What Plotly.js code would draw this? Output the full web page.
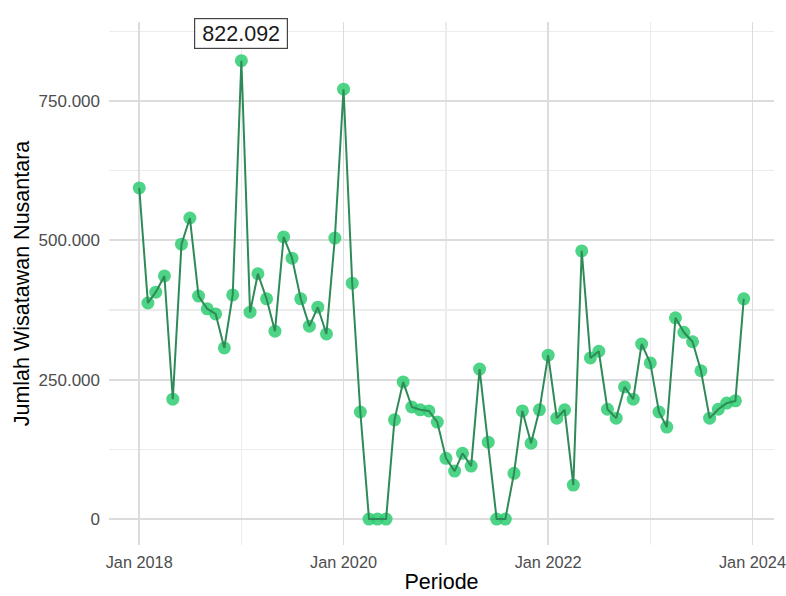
<!DOCTYPE html>
<html>
<head>
<meta charset="utf-8">
<script src="https://cdn.plot.ly/plotly-3.0.1.min.js"></script>
<style>html,body{margin:0;padding:0;background:#fff;}#chart{width:786px;height:596px;}</style>
</head>
<body>
<div id="chart"></div>
<script>
var periods = [
"2018-01-01","2018-02-01","2018-03-01","2018-04-01","2018-05-01","2018-06-01","2018-07-01","2018-08-01","2018-09-01","2018-10-01","2018-11-01","2018-12-01",
"2019-01-01","2019-02-01","2019-03-01","2019-04-01","2019-05-01","2019-06-01","2019-07-01","2019-08-01","2019-09-01","2019-10-01","2019-11-01","2019-12-01",
"2020-01-01","2020-02-01","2020-03-01","2020-04-01","2020-05-01","2020-06-01","2020-07-01","2020-08-01","2020-09-01","2020-10-01","2020-11-01","2020-12-01",
"2021-01-01","2021-02-01","2021-03-01","2021-04-01","2021-05-01","2021-06-01","2021-07-01","2021-08-01","2021-09-01","2021-10-01","2021-11-01","2021-12-01",
"2022-01-01","2022-02-01","2022-03-01","2022-04-01","2022-05-01","2022-06-01","2022-07-01","2022-08-01","2022-09-01","2022-10-01","2022-11-01","2022-12-01",
"2023-01-01","2023-02-01","2023-03-01","2023-04-01","2023-05-01","2023-06-01","2023-07-01","2023-08-01","2023-09-01","2023-10-01","2023-11-01","2023-12-01"
];
var wisatawan = [
594000,387500,407000,436000,215000,493000,540000,400000,377000,368000,307000,402000,
822092,371000,440000,395000,337000,506000,468000,395000,346000,380000,332000,504000,
771000,423000,192000,0,0,0,178000,246000,201000,196000,194000,174000,
109000,86000,118000,95000,269000,138000,0,0,82000,194000,136000,196000,
294000,181000,196000,61000,481000,289000,301000,197000,181000,237000,215000,314000,
280000,192000,165000,361000,335000,318000,266000,181000,197000,208000,212000,395000
];
var xTickVals = ["2018-01-01","2020-01-01","2022-01-01","2024-01-01"];
var xTickText = ["Jan 2018","Jan 2020","Jan 2022","Jan 2024"];
var xMinorVals = ["2019-01-01","2021-01-01","2023-01-01"];
var yTickVals = [0,250000,500000,750000];
var yTickText = ["0","250.000","500.000","750.000"];
var yMinorVals = [125000,375000,625000,875000];

var maxVal = Math.max.apply(null, wisatawan);
var maxIdx = wisatawan.indexOf(maxVal);
function fmtDot(v){ return String(Math.round(v)).replace(/\B(?=(\d{3})+(?!\d))/g, "."); }

var traces = [
  {x: periods, y: wisatawan, type: "scatter", mode: "markers",
   marker: {color: "rgba(46,204,113,0.85)", size: 13}, hoverinfo: "skip"},
  {x: periods, y: wisatawan, type: "scatter", mode: "lines",
   line: {color: "#2E8B57", width: 2}, hoverinfo: "skip"}
];

var layout = {
  width: 786, height: 596,
  margin: {l: 109, r: 12, t: 22, b: 51},
  paper_bgcolor: "#fff", plot_bgcolor: "#fff",
  showlegend: false,
  font: {family: "Liberation Sans, Arial, sans-serif"},
  xaxis: {
    type: "date",
    range: ["2017-09-15", "2024-03-18"],
    tickvals: xTickVals, ticktext: xTickText,
    ticklabeloverflow: "allow",
    showgrid: true, gridcolor: "#dcdcdc", gridwidth: 1.8,
    minor: {tickvals: xMinorVals, showgrid: true, gridcolor: "#ececec", gridwidth: 1.3},
    zeroline: false, showline: false, ticks: "",
    ticklabelstandoff: 6,
    tickfont: {size: 16.3, color: "#4d4d4d"},
    title: {text: "Periode", font: {size: 21.5, color: "#000"}, standoff: 3}
  },
  yaxis: {
    range: [-46500, 891500],
    tickvals: yTickVals, ticktext: yTickText,
    showgrid: true, gridcolor: "#dcdcdc", gridwidth: 1.8,
    minor: {tickvals: yMinorVals, showgrid: true, gridcolor: "#ececec", gridwidth: 1.3},
    zeroline: false, showline: false, ticks: "",
    ticklabelstandoff: 8,
    tickfont: {size: 17, color: "#4d4d4d"},
    title: {text: "Jumlah Wisatawan Nusantara", font: {size: 21.5, color: "#000"}, standoff: 3}
  },
  annotations: [{
    x: periods[maxIdx], y: maxVal, xref: "x", yref: "y",
    text: fmtDot(maxVal), showarrow: false,
    yanchor: "middle", yshift: 27,
    width: 88, height: 25,
    font: {size: 21.5, color: "#1a1a1a"},
    bgcolor: "#fff", bordercolor: "#444", borderwidth: 1.2, borderpad: 2
  }]
};

Plotly.newPlot("chart", traces, layout, {displayModeBar: false, staticPlot: true});
</script>
</body>
</html>
